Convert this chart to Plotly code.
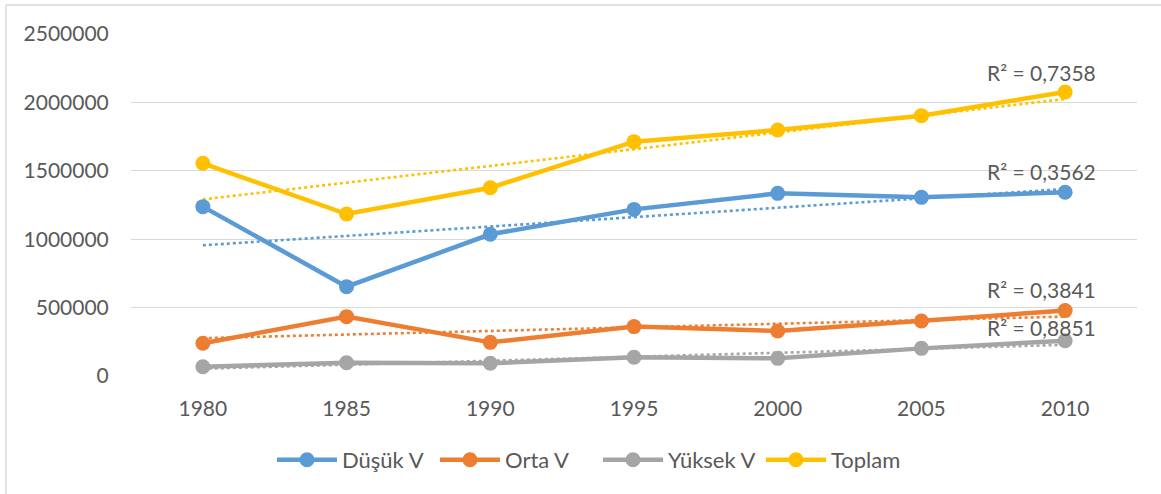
import numpy as np
import plotly.graph_objects as go

years = ["1980", "1985", "1990", "1995", "2000", "2005", "2010"]
dusuk = [1238000, 653000, 1036000, 1218000, 1335000, 1306000, 1343000]
orta = [239000, 434000, 246000, 361000, 329000, 402000, 478000]
yuksek = [68000, 97000, 93000, 137000, 129000, 202000, 258000]
toplam = [1555000, 1184000, 1376000, 1713000, 1798000, 1903000, 2076000]

names = ["Düşük V", "Orta V", "Yüksek V", "Toplam"]
colors = ["#5B9BD5", "#ED7D31", "#A5A5A5", "#FFC000"]
series = [dusuk, orta, yuksek, toplam]
r2_labels = ["R² = 0,3562", "R² = 0,3841", "R² = 0,8851", "R² = 0,7358"]
r2_label_y = [1498000, 636000, 351000, 2222000]

W, H = 1161, 494
L, R, T, B = 131, 24, 34, 118
pw, ph = W - L - R, H - T - B

font_family = "Lato, 'Open Sans', sans-serif"
text_color = "#595959"

fig = go.Figure()

# trendlines (linear least squares on the series values)
idx = np.arange(len(years))
for name, color, vals in zip(names, colors, series):
    k, c = np.polyfit(idx, np.array(vals, dtype=float), 1)
    trend = k * idx + c
    fig.add_trace(go.Scatter(
        x=years, y=trend, mode="lines",
        line=dict(color=color, width=2.6, dash="dot"),
        showlegend=False, hoverinfo="skip"))

for name, color, vals in zip(names, colors, series):
    fig.add_trace(go.Scatter(
        x=years, y=vals, mode="lines+markers", name=name,
        line=dict(color=color, width=4.5),
        marker=dict(color=color, size=15)))

annotations = []
for lab, yv in zip(r2_labels, r2_label_y):
    annotations.append(dict(
        x=0.905, xref="paper", y=yv, yref="y", text=lab, showarrow=False,
        xanchor="center", yanchor="middle",
        font=dict(family=font_family, size=21, color=text_color)))

def px_x(p):
    return (p - L) / pw

def px_y(p):
    return (H - B - p) / ph

shapes = [
    dict(type="line", xref="paper", yref="paper",
         x0=px_x(6), x1=px_x(W + 10), y0=px_y(5), y1=px_y(5),
         line=dict(color="#D9D9D9", width=1.5)),
    dict(type="line", xref="paper", yref="paper",
         x0=px_x(6), x1=px_x(6), y0=px_y(5), y1=px_y(H + 10),
         line=dict(color="#D9D9D9", width=1.5)),
]

fig.update_layout(
    width=W, height=H,
    margin=dict(l=L, r=R, t=T, b=B),
    paper_bgcolor="white", plot_bgcolor="white",
    font=dict(family=font_family, size=21, color=text_color),
    xaxis=dict(type="category", range=[-0.5, 6.5], showgrid=False,
               showline=False, zeroline=False,
               ticks="outside", ticklen=14, tickcolor="rgba(0,0,0,0)",
               tickfont=dict(size=21, color=text_color)),
    yaxis=dict(range=[0, 2500000], dtick=500000, showgrid=True,
               gridcolor="#D9D9D9", gridwidth=1.3, zeroline=False,
               showline=False, tickformat="d",
               ticks="outside", ticklen=17, tickcolor="rgba(0,0,0,0)",
               tickfont=dict(size=21, color=text_color)),
    legend=dict(orientation="h", x=px_x(272), xanchor="left",
                y=px_y(460), yanchor="middle",
                font=dict(size=22, color=text_color), itemwidth=60,
                entrywidth=88, entrywidthmode="pixels",
                tracegroupgap=0),
    annotations=annotations,
    shapes=shapes,
)

fig.write_html("out.html",
               config={"displayModeBar": False},
               post_script="document.body.style.margin='0';")
